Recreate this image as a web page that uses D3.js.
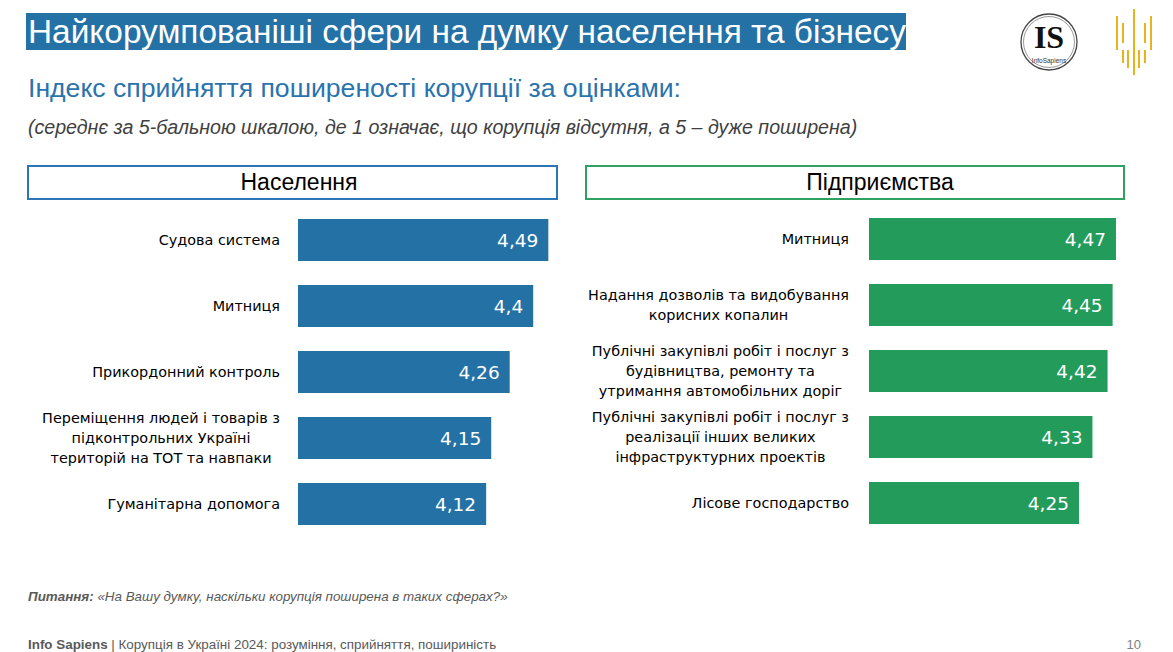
<!DOCTYPE html>
<html><head><meta charset="utf-8">
<script src="https://cdn.jsdelivr.net/npm/d3@7"></script>
<style>
html,body{margin:0;padding:0;background:#fff;}
svg{display:block;}
</style></head>
<body>
<svg id="chart" width="1173" height="652"></svg>
<script>
// ---- data ----
const titleText = "Найкорумпованіші сфери на думку населення та бізнесу";
const subtitleText = "Індекс сприйняття поширеності корупції за оцінками:";
const noteText = "(середнє за 5-бальною шкалою, де 1 означає, що корупція відсутня, а 5 – дуже поширена)";
const panelTitles = ["Населення", "Підприємства"];

const popCategories = [
  ["Судова система"],
  ["Митниця"],
  ["Прикордонний контроль"],
  ["Переміщення людей і товарів з", "підконтрольних Україні", "територій на ТОТ та навпаки"],
  ["Гуманітарна допомога"]
];
const popValues = [4.49, 4.4, 4.26, 4.15, 4.12];

const bizCategories = [
  ["Митниця"],
  ["Надання дозволів та видобування", "корисних копалин"],
  ["Публічні закупівлі робіт і послуг з", "будівництва, ремонту та", "утримання автомобільних доріг"],
  ["Публічні закупівлі робіт і послуг з", "реалізації інших великих", "інфраструктурних проектів"],
  ["Лісове господарство"]
];
const bizValues = [4.47, 4.45, 4.42, 4.33, 4.25];

const questionLabel = "Питання:";
const questionText = " «На Вашу думку, наскільки корупція поширена в таких сферах?»";
const footerBrand = "Info Sapiens";
const footerText = " | Корупція в Україні 2024: розуміння, сприйняття, пошириність";
const pageNumber = "10";

// ---- drawing ----
const svg = d3.select("#chart");
const BLUE = "#2471a5", GREEN = "#239b5a";
const SANS = "'Liberation Sans', Arial, sans-serif";
const LABF = "'DejaVu Sans', Verdana, sans-serif";

// title
svg.append("rect").attr("x", 26).attr("y", 13).attr("width", 880).attr("height", 37).attr("fill", BLUE);
svg.append("text").attr("x", 28).attr("y", 43).attr("font-family", SANS).attr("font-size", 33.4)
  .attr("fill", "#fff").text(titleText);
svg.append("text").attr("x", 28).attr("y", 97).attr("font-family", SANS).attr("font-size", 26.6)
  .attr("fill", "#2a73ad").text(subtitleText);
svg.append("text").attr("x", 28).attr("y", 134).attr("font-family", SANS).attr("font-size", 19.6)
  .attr("font-style", "italic").attr("fill", "#404040").text(noteText);

// logos
const logo = svg.append("g");
logo.append("circle").attr("cx", 1049).attr("cy", 42).attr("r", 28).attr("fill", "none").attr("stroke", "#444").attr("stroke-width", 1.3);
logo.append("circle").attr("cx", 1049).attr("cy", 42).attr("r", 25.5).attr("fill", "none").attr("stroke", "#999").attr("stroke-width", 1);
logo.append("text").attr("x", 1049).attr("y", 48).attr("text-anchor", "middle")
  .attr("font-family", "'Liberation Serif', 'DejaVu Serif', serif").attr("font-weight", "bold")
  .attr("font-size", 32).attr("fill", "#111").text("IS");
logo.append("text").attr("x", 1049).attr("y", 63).attr("text-anchor", "middle")
  .attr("font-family", SANS).attr("font-size", 6.5).attr("fill", "#333").text("InfoSapiens");
const goldSegs = [[1117,16,50],[1123,23,43],[1123,50,63],[1128,50,68],[1134,9,75],[1139,50,68],[1145,23,43],[1145,50,63],[1151,16,50]];
logo.selectAll("line.g").data(goldSegs).join("line").attr("class","g")
  .attr("x1", d => d[0]).attr("x2", d => d[0]).attr("y1", d => d[1]).attr("y2", d => d[2])
  .attr("stroke", "#e8b31f").attr("stroke-width", 2);

function panel(opts) {
  const g = svg.append("g");
  g.append("rect").attr("x", opts.boxX).attr("y", 166).attr("width", opts.boxW).attr("height", 33)
    .attr("fill", "#fff").attr("stroke", opts.border).attr("stroke-width", 2);
  g.append("text").attr("x", opts.titleX).attr("y", 190).attr("text-anchor", "middle")
    .attr("font-family", SANS).attr("font-size", 23).attr("fill", "#000").text(opts.title);

  const x = d3.scaleLinear().domain([3, 5]).range([opts.x0, opts.x0 + 2 * 168]);
  const y = d3.scaleBand().domain(d3.range(opts.values.length))
    .range([opts.y0, opts.y0 + 330]).paddingInner(24 / 66).paddingOuter(12 / 66);

  g.selectAll("rect.bar").data(opts.values).join("rect").attr("class", "bar")
    .attr("x", x(3)).attr("y", (d, i) => y(i)).attr("width", d => x(d) - x(3))
    .attr("height", y.bandwidth()).attr("fill", opts.color);

  g.selectAll("text.val").data(opts.values).join("text").attr("class", "val")
    .attr("x", d => x(d) - 10).attr("y", (d, i) => y(i) + y.bandwidth() / 2)
    .attr("dy", "0.36em").attr("text-anchor", "end")
    .attr("font-family", LABF).attr("font-size", 18.5).attr("fill", "#fff")
    .text(d => String(d).replace(".", ","));

  const lh = 20;
  opts.cats.forEach((lines, i) => {
    const cy = y(i) + y.bandwidth() / 2;
    const t = g.append("text").attr("font-family", LABF).attr("font-size", 14.4).attr("fill", "#000");
    const spans = lines.map((ln, j) => t.append("tspan").attr("y", cy + (j - (lines.length - 1) / 2) * lh).attr("dy", "0.36em").text(ln));
    const widths = spans.map(s => s.node().getComputedTextLength());
    const maxW = d3.max(widths);
    const center = opts.labelRight - maxW / 2;
    spans.forEach(s => s.attr("x", center).attr("text-anchor", "middle"));
  });
}

panel({ boxX: 28, boxW: 529, border: "#2e75b6", title: panelTitles[0], titleX: 299, x0: 298, y0: 207,
  values: popValues, cats: popCategories, color: BLUE, labelRight: 280 });
panel({ boxX: 586, boxW: 538, border: "#2fa262", title: panelTitles[1], titleX: 880, x0: 869, y0: 206,
  values: bizValues, cats: bizCategories, color: GREEN, labelRight: 849 });

// footer
const q = svg.append("text").attr("x", 28).attr("y", 601).attr("font-family", SANS)
  .attr("font-size", 13.4).attr("font-style", "italic").attr("fill", "#595959");
q.append("tspan").attr("font-weight", "bold").text(questionLabel);
q.append("tspan").text(questionText);

const f = svg.append("text").attr("x", 28).attr("y", 649).attr("font-family", SANS)
  .attr("font-size", 13.4).attr("fill", "#595959");
f.append("tspan").attr("font-weight", "bold").text(footerBrand);
f.append("tspan").text(footerText);
svg.append("text").attr("x", 1141).attr("y", 649).attr("text-anchor", "end").attr("font-family", SANS)
  .attr("font-size", 13).attr("fill", "#7f7f7f").text(pageNumber);
</script>
</body></html>
